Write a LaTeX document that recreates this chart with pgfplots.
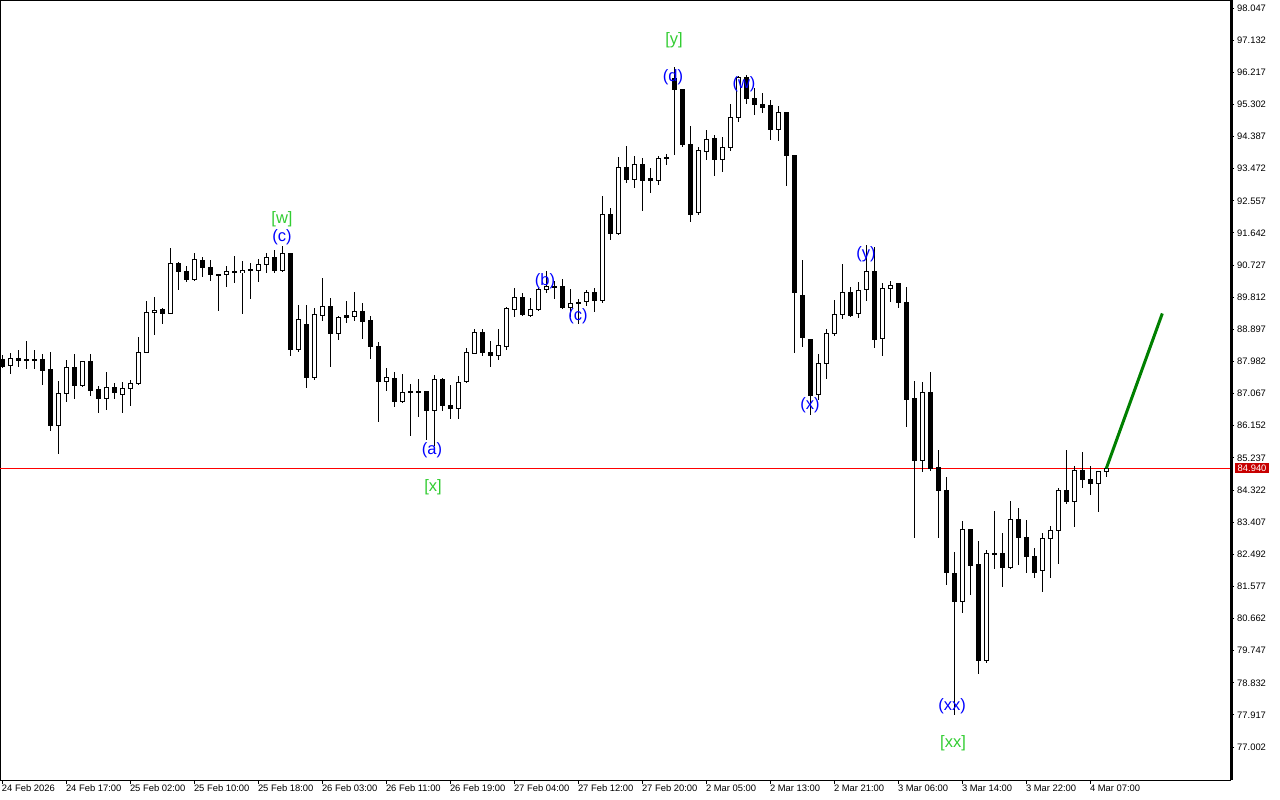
\documentclass[border=0pt]{standalone}
\usepackage{pgfplots}
\pgfplotsset{compat=1.18}
\usepackage{pgfplotstable}
\usepackage{fontspec}
\setmainfont{Liberation Sans}
\definecolor{wavegreen}{RGB}{50,205,50}
\definecolor{waveblue}{RGB}{0,0,255}
\definecolor{fcgreen}{RGB}{0,128,0}
\definecolor{pricered}{RGB}{200,0,0}
\newcommand\tickfont{\fontsize{9.4bp}{11bp}\selectfont}
\newcommand\wavefont{\fontsize{16.5bp}{18bp}\selectfont}

% H1 candles: index, open, high, low, close
\pgfplotstableread{
i o h l c
0 88.05 88.17 87.80 87.85
1 87.88 88.22 87.63 88.08
2 88.08 88.31 87.82 88.00
3 88.02 88.57 87.77 88.03
4 88.05 88.31 87.77 88.00
5 88.05 88.20 87.31 87.72
6 87.74 88.25 86.01 86.15
7 86.15 87.43 85.35 87.08
8 87.08 88.02 86.84 87.80
9 87.80 88.20 86.91 87.29
10 87.29 88.00 87.26 87.97
11 87.97 88.20 87.01 87.17
12 87.19 87.28 86.52 86.92
13 86.92 87.68 86.60 87.25
14 87.25 87.36 86.92 87.09
15 87.04 87.39 86.52 87.22
16 87.22 87.46 86.72 87.36
17 87.36 88.68 87.32 88.24
18 88.24 89.70 88.24 89.38
19 89.38 89.81 88.74 89.44
20 89.45 89.51 89.06 89.35
21 89.35 91.21 89.35 90.76
22 90.76 90.82 90.03 90.54
23 90.55 90.69 90.25 90.32
24 90.32 91.06 90.28 90.89
25 90.86 90.95 90.38 90.66
26 90.66 90.86 90.28 90.46
27 90.47 90.47 89.43 90.44
28 90.46 90.69 90.09 90.55
29 90.55 90.98 90.21 90.51
30 90.51 90.84 89.34 90.58
31 90.61 90.78 89.77 90.57
32 90.58 90.89 90.24 90.75
33 90.75 91.06 90.49 90.95
34 90.95 91.15 90.51 90.57
35 90.58 91.27 90.52 91.06
36 91.06 91.06 88.14 88.33
37 88.33 89.58 88.26 89.18
38 89.05 89.59 87.24 87.52
39 87.52 89.50 87.45 89.31
40 89.30 90.36 89.14 89.55
41 89.56 89.78 87.83 88.79
42 88.79 89.28 88.60 89.24
43 89.28 89.70 89.09 89.23
44 89.27 89.96 89.14 89.41
45 89.41 89.64 88.63 89.11
46 89.14 89.28 88.06 88.40
47 88.42 88.53 86.27 87.41
48 87.41 87.80 87.15 87.53
49 87.50 87.68 86.70 86.84
50 86.85 87.63 86.81 87.10
51 87.14 87.34 85.87 87.09
52 87.14 87.48 86.41 87.09
53 87.14 87.14 85.75 86.58
54 86.58 87.60 85.58 87.46
55 87.48 87.50 86.58 86.72
56 86.73 87.31 86.34 86.64
57 86.64 87.56 86.35 87.39
58 87.41 88.37 87.36 88.24
59 88.20 88.92 88.19 88.82
60 88.82 88.91 88.14 88.23
61 88.25 88.56 87.83 88.15
62 88.15 88.92 88.02 88.44
63 88.42 89.53 88.31 89.48
64 89.47 90.08 89.26 89.81
65 89.81 89.92 89.28 89.31
66 89.30 89.79 89.26 89.47
67 89.47 90.07 89.43 90.04
68 90.04 90.57 89.92 90.13
69 90.13 90.27 89.75 90.10
70 90.11 90.32 89.49 89.51
71 89.51 90.04 89.26 89.64
72 89.67 89.76 89.05 89.64
73 89.68 90.02 89.56 89.94
74 89.94 90.07 89.40 89.71
75 89.71 92.69 89.66 92.17
76 92.18 92.35 91.44 91.63
77 91.63 93.80 91.59 93.51
78 93.51 94.11 93.06 93.17
79 93.17 93.82 92.93 93.60
80 93.60 93.78 92.28 93.14
81 93.18 93.48 92.79 93.15
82 93.15 93.82 93.01 93.76
83 93.80 93.89 93.58 93.77
84 96.05 96.36 93.86 95.73
85 95.74 95.74 94.08 94.17
86 94.17 94.69 91.96 92.18
87 92.22 94.08 92.15 93.98
88 93.97 94.57 93.72 94.31
89 94.34 94.43 93.27 93.74
90 93.74 94.37 93.39 94.08
91 94.08 95.31 93.98 94.93
92 94.93 96.11 94.81 96.07
93 96.07 96.14 95.32 95.48
94 95.48 95.76 94.99 95.29
95 95.31 95.63 95.07 95.21
96 95.26 95.43 94.29 94.58
97 94.59 95.26 94.25 95.06
98 95.06 95.09 92.99 93.84
99 93.86 93.86 88.23 89.94
100 89.85 90.87 88.40 88.67
101 88.61 88.61 86.46 87.01
102 87.05 88.20 86.89 87.93
103 87.93 88.91 87.47 88.79
104 88.79 89.73 88.72 89.33
105 89.33 90.75 89.18 89.95
106 89.95 90.09 89.24 89.29
107 89.35 90.24 89.23 90.01
108 90.04 91.30 89.71 90.54
109 90.55 91.25 88.36 88.61
110 88.64 90.21 88.15 90.07
111 90.07 90.28 89.68 90.15
112 90.19 90.23 89.50 89.66
113 89.65 90.11 86.11 86.91
114 86.94 87.43 82.95 85.16
115 85.16 87.40 84.84 87.10
116 87.10 87.69 84.86 84.95
117 84.97 85.46 82.96 84.31
118 84.32 84.68 81.62 81.97
119 81.95 82.55 77.92 81.14
120 81.14 83.45 80.81 83.20
121 83.21 83.21 81.33 82.17
122 82.19 82.87 79.08 79.46
123 79.46 82.61 79.41 82.52
124 82.52 83.72 82.07 82.48
125 82.52 83.10 81.57 82.11
126 82.11 84.01 82.08 83.49
127 83.49 83.81 82.19 82.96
128 82.97 83.47 81.97 82.42
129 82.43 82.67 81.83 81.97
130 82.04 83.10 81.43 82.95
131 82.95 83.29 81.83 83.17
132 83.17 84.38 82.22 84.31
133 84.31 85.46 83.93 83.99
134 83.99 85.01 83.28 84.88
135 84.88 85.40 84.39 84.62
136 84.63 85.01 84.19 84.50
137 84.51 84.87 83.70 84.86
138 84.86 84.97 84.70 84.94
}\candles

\begin{document}
\begin{tikzpicture}
\fill[white] (0,0) rectangle (1280bp,-800bp);
\useasboundingbox (0,0) rectangle (1280bp,-800bp);
\begin{axis}[
    at={(0,0)}, anchor=north west,
    scale only axis, width=1230bp, height=780bp,
    xmin=-0.2875, xmax=153.46,
    ymin=76.065, ymax=98.275,
    axis line style={black, line width=1bp},
    clip mode=individual,
    tick align=outside,
    major tick length=4bp,
    tick style={black, line width=1bp},
    xtick pos=left,
    ytick pos=right, yticklabel pos=right,
    xtick={0,8,...,136},
    xticklabels={24 Feb 2026, 24 Feb 17:00, 25 Feb 02:00, 25 Feb 10:00, 25 Feb 18:00, 26 Feb 03:00, 26 Feb 11:00, 26 Feb 19:00, 27 Feb 04:00, 27 Feb 12:00, 27 Feb 20:00, 2 Mar 05:00, 2 Mar 13:00, 2 Mar 21:00, 3 Mar 06:00, 3 Mar 14:00, 3 Mar 22:00, 4 Mar 07:00},
    ytick={98.047,97.132,96.217,95.302,94.387,93.472,92.557,91.642,90.727,89.812,88.897,87.982,87.067,86.152,85.237,84.322,83.407,82.492,81.577,80.662,79.747,78.832,77.917,77.002},
    yticklabels={98.047,97.132,96.217,95.302,94.387,93.472,92.557,91.642,90.727,89.812,88.897,87.982,87.067,86.152,85.237,84.322,83.407,82.492,81.577,80.662,79.747,78.832,77.917,77.002},
    xticklabel style={font=\tickfont, anchor=north west, inner sep=0pt, xshift=-0.5bp, yshift=-0.5bp},
    yticklabel style={font=\tickfont, anchor=west, inner sep=0pt, xshift=3bp},
]
% current price line
\addplot[red, line width=1bp, forget plot] coordinates {(-0.2875,84.94) (153.46,84.94)};

% wicks
\addplot[draw=none, mark=none, forget plot,
    error bars/.cd, y dir=both, y explicit, error mark=none,
    error bar style={draw=black, line width=1bp}]
    table[x=i, y expr={(\thisrow{h}+\thisrow{l})/2}, y error expr={(\thisrow{h}-\thisrow{l})/2}] {\candles};
% bodies (black outline / filled)
\addplot[draw=none, mark=none, forget plot,
    error bars/.cd, y dir=both, y explicit, error mark=none,
    error bar style={draw=black, line width=5bp}]
    table[x=i, y expr={(\thisrow{o}+\thisrow{c})/2}, y error expr={abs(\thisrow{c}-\thisrow{o})/2+0.0142}] {\candles};
% hollow inside of bullish bodies
\addplot[draw=none, mark=none, forget plot,
    error bars/.cd, y dir=both, y explicit, error mark=none,
    error bar style={draw=white, line width=3bp}]
    table[x=i, y expr={\thisrow{c}-\thisrow{o}>0.03 ? (\thisrow{o}+\thisrow{c})/2 : nan}, y error expr={(\thisrow{c}-\thisrow{o})/2-0.0142}] {\candles};

% forecast
\addplot[fcgreen, line width=3bp, forget plot] coordinates {(138,84.94) (145,89.35)};

% wave labels
\node[text=wavegreen, font=\wavefont] at (axis cs:34.96,92.04) {[w]};
\node[text=waveblue, font=\wavefont] at (axis cs:34.96,91.53) {(c)};
\node[text=waveblue, font=\wavefont] at (axis cs:67.84,90.27) {(b)};
\node[text=waveblue, font=\wavefont] at (axis cs:71.96,89.28) {(c)};
\node[text=waveblue, font=\wavefont] at (axis cs:53.71,85.46) {(a)};
\node[text=wavegreen, font=\wavefont] at (axis cs:53.84,84.41) {[x]};
\node[text=wavegreen, font=\wavefont] at (axis cs:83.96,97.14) {[y]};
\node[text=waveblue, font=\wavefont] at (axis cs:83.84,96.08) {(d)};
\node[text=waveblue, font=\wavefont] at (axis cs:92.71,95.88) {(w)};
\node[text=waveblue, font=\wavefont] at (axis cs:107.96,91.04) {(y)};
\node[text=waveblue, font=\wavefont] at (axis cs:100.96,86.74) {(x)};
\node[text=waveblue, font=\wavefont] at (axis cs:118.71,78.17) {(xx)};
\node[text=wavegreen, font=\wavefont] at (axis cs:118.84,77.12) {[xx]};

% price tag
\node[fill=pricered, text=white, font=\tickfont, inner xsep=2.5bp, inner ysep=1.6bp, anchor=west, xshift=5bp] at (axis cs:153.46,84.94) {84.940};
\end{axis}
\draw[black, line width=3bp] (1231.5bp,0) -- (1231.5bp,-780bp);
\end{tikzpicture}
\end{document}
